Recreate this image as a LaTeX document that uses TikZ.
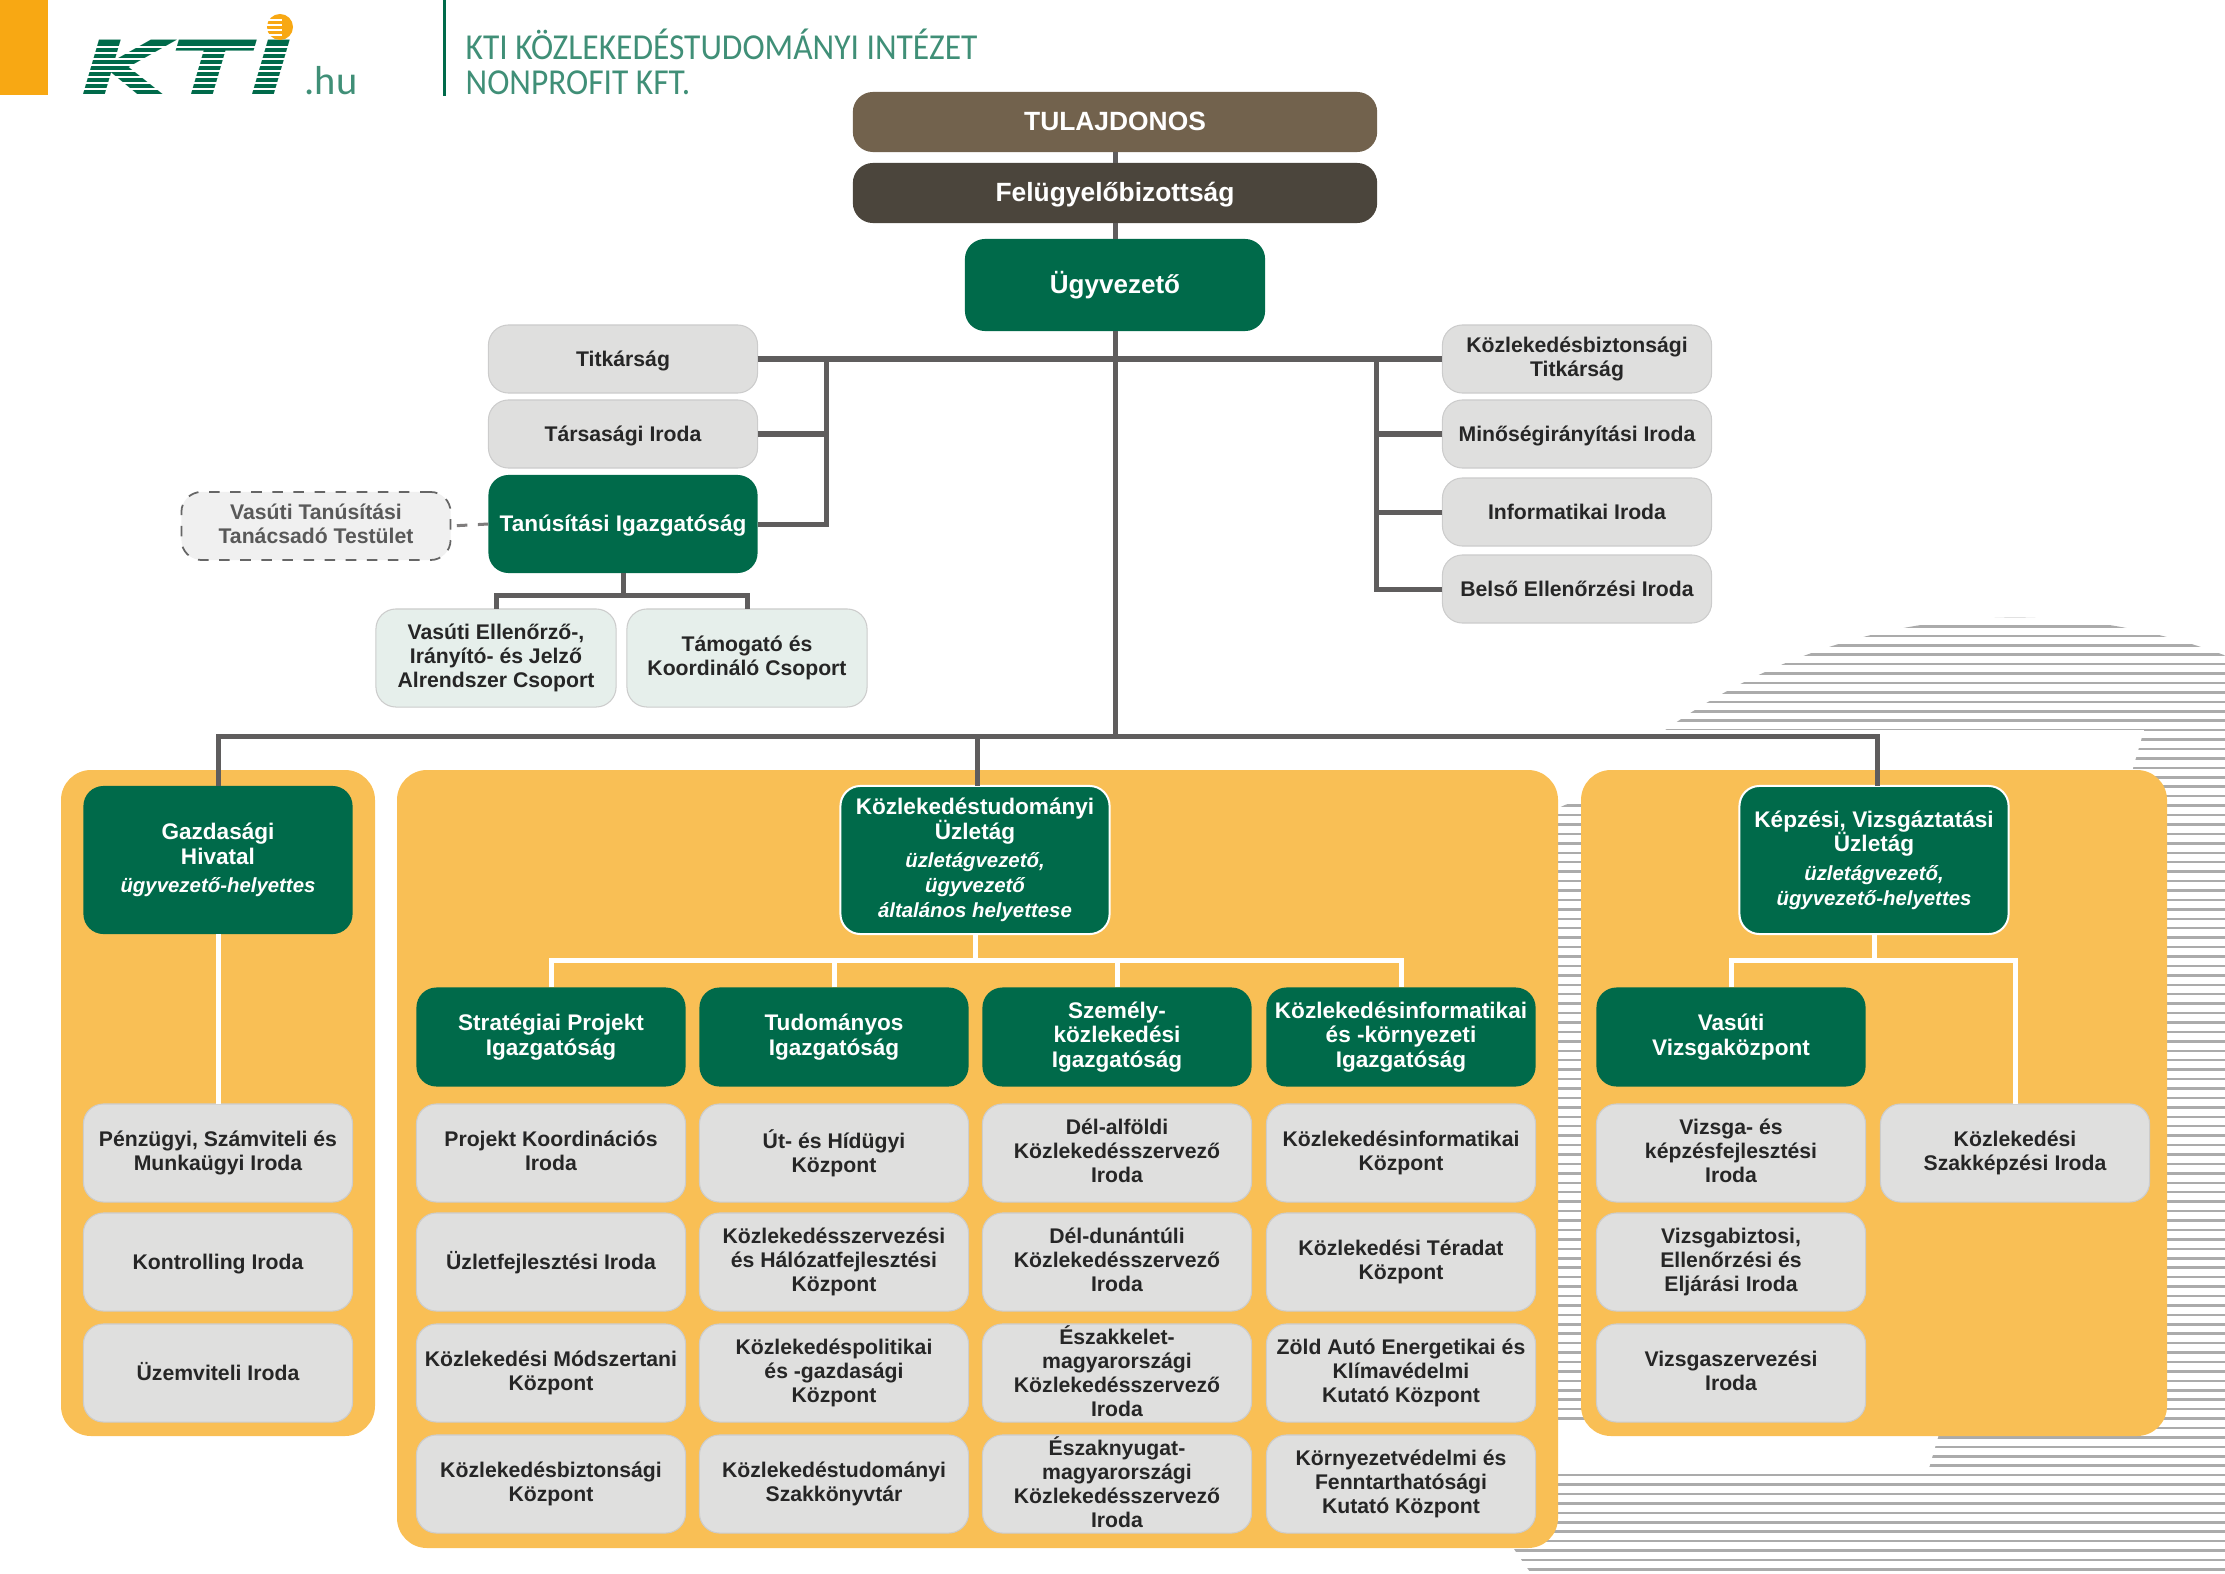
\documentclass[tikz,border=0pt]{standalone}
\usepackage{fontspec}
\setmainfont{Liberation Sans}
\newfontfamily\headfont{Carlito}
\newfontfamily\logofont{DejaVu Sans}
\definecolor{ktigreen}{HTML}{006A4A}
\definecolor{ktiorange}{HTML}{F8A813}
\definecolor{panelc}{HTML}{F9BF55}
\definecolor{boxgray}{HTML}{DFDFDE}
\definecolor{linec}{HTML}{5F5D5D}
\definecolor{stripec}{HTML}{ABABAB}
\definecolor{ownerc}{HTML}{72624D}
\definecolor{boardc}{HTML}{4B453C}
\definecolor{groupc}{HTML}{E6EFEB}
\newcommand{\ital}[1]{{\fontsize{5.8}{6.8}\selectfont\itshape #1}}
\newcommand{\topstrut}{\rule{0pt}{0.82\baselineskip}}
\newcommand{\botstrut}{\rule[-0.18\baselineskip]{0pt}{0.18\baselineskip}}
\begin{document}
\begin{tikzpicture}[x=0.01cm,y=-0.01cm,
    box/.style={rounded corners=0.2cm,inner sep=0pt,outer sep=0pt,align=center,font=\bfseries\fontsize{6.03}{6.85}\selectfont,
      execute at begin node=\topstrut,execute at end node=\botstrut},
    graybox/.style={box,fill=boxgray,draw=black!20,line width=0.3pt,text=black!85,minimum width=2.69cm,minimum height=0.98cm},
    thinbox/.style={graybox,minimum height=0.68cm},
    greenbox/.style={box,fill=ktigreen,text=white,minimum width=2.69cm,minimum height=0.99cm,font=\bfseries\fontsize{6.42}{7.05}\selectfont},
    headbox/.style={greenbox,minimum height=1.48cm},
    topbox/.style={box,text=white,minimum width=5.24cm,minimum height=0.6cm,font=\bfseries\fontsize{7.5}{8}\selectfont},
    subbox/.style={graybox,fill=groupc,minimum width=2.4cm},
    panel/.style={fill=panelc,rounded corners=0.3cm},
    conn/.style={draw=linec,line width=0.05cm},
    wconn/.style={draw=white,line width=0.05cm},
    headtext/.style={anchor=base west,inner sep=0pt,text=ktigreen!75,font=\headfont\fontsize{10.4}{12}\selectfont}]
  \useasboundingbox (0,0) rectangle (2225,1573);

  % striped disc with a white band across it
  \begin{scope}
    \clip (2015,1218) circle (6cm);
    \foreach \i in {0,...,101}
      \draw[stripec,line width=0.025cm] (1400,617+9.43*\i) -- (2225,617+9.43*\i);
  \end{scope}
  \fill[white] (1400,730) -- (2144,730) -- (1929,1468) -- (1400,1468) -- cycle;
  \begin{scope}
    \clip (1550,815) .. controls (1562,805) .. (1590,798) -- (1590,1422) -- (1550,1422) -- cycle;
    \foreach \i in {19,...,86}
      \draw[stripec,line width=0.025cm] (1550,617+9.43*\i) -- (1590,617+9.43*\i);
  \end{scope}

  % header
  \fill[ktiorange] (0,0) rectangle (48,95);
  \node[inner sep=0pt,text=ktigreen,font=\logofont\bfseries\itshape\fontsize{22}{22}\selectfont,xscale=1.5] (logo) at (187,68) {KTI};
  \fill[ktiorange] (280,27) circle (0.13cm);
  \foreach \i in {0,...,8}
    \draw[white,line width=0.014cm] (75,47+6*\i) -- (300,47+6*\i);
  \foreach \i in {0,...,3}
    \draw[white,line width=0.012cm] (264,20+5*\i) -- (282,20+5*\i);
  \node[anchor=base west,inner sep=0pt,text=ktigreen!75,font=\headfont\fontsize{11.5}{12}\selectfont] (hu) at (304,95) {.hu};
  \draw[ktigreen,line width=0.03cm] (444,0) -- (444,96);
  \node[headtext,xscale=0.915] (title1) at (465,60) {KTI KÖZLEKEDÉSTUDOMÁNYI INTÉZET};
  \node[headtext,xscale=0.915] (title2) at (465,95) {NONPROFIT KFT.};

  % panels
  \fill[panel] (61,770) rectangle (375,1436);
  \fill[panel] (397,770) rectangle (1558,1548);
  \fill[panel] (1581,770) rectangle (2167,1436);

  % top of the tree
  \node[topbox,fill=ownerc] (tulajdonos) at (1115,122) {TULAJDONOS};
  \node[topbox,fill=boardc] (felugyelo) at (1115,193) {Felügyelőbizottság};
  \node[greenbox,minimum width=3cm,minimum height=0.92cm,font=\bfseries\fontsize{7.4}{8}\selectfont] (ugyvezeto) at (1115,285) {Ügyvezető};

  \node[thinbox] (titkarsag) at (623,359) {Titkárság};
  \node[thinbox] (tarsasagi) at (623,434) {Társasági Iroda};
  \node[greenbox,minimum height=0.98cm] (tanusitasi) at (623,524) {Tanúsítási Igazgatóság};
  \node[thinbox,fill=black!6,draw=black!60,dashed,line width=0.5pt,text=black!65] (tanacsado) at (316,526) {Vasúti Tanúsítási\\Tanácsadó Testület};
  \node[subbox] (ellenorzo) at (496,658) {Vasúti Ellenőrző-,\\Irányító- és Jelző\\Alrendszer Csoport};
  \node[subbox] (tamogato) at (747,658) {Támogató és\\Koordináló Csoport};

  \node[thinbox] (kbtitkarsag) at (1577,359) {Közlekedésbiztonsági\\Titkárság};
  \node[thinbox] (minoseg) at (1577,434) {Minőségirányítási Iroda};
  \node[thinbox] (informatikai) at (1577,512) {Informatikai Iroda};
  \node[thinbox] (belso) at (1577,589) {Belső Ellenőrzési Iroda};

  % divisions
  \node[headbox] (gazdasagi) at (218,860) {Gazdasági\\Hivatal\\[1pt]\ital{ügyvezető-helyettes}};
  \node[headbox,draw=white,line width=0.02cm] (uzletag) at (975,860) {Közlekedéstudományi\\Üzletág\\[1pt]\ital{üzletágvezető,}\\\ital{ügyvezető}\\\ital{általános helyettese}};
  \node[headbox,draw=white,line width=0.02cm] (kepzesi) at (1874,860) {Képzési, Vizsgáztatási\\Üzletág\\[1pt]\ital{üzletágvezető,}\\\ital{ügyvezető-helyettes}};

  \node[greenbox] (strategiai) at (551,1037) {Stratégiai Projekt\\Igazgatóság};
  \node[greenbox] (tudomanyos) at (834,1037) {Tudományos\\Igazgatóság};
  \node[greenbox] (szemely) at (1117,1037) {Személy-\\közlekedési\\Igazgatóság};
  \node[greenbox] (kozinf) at (1401,1037) {Közlekedésinformatikai\\és -környezeti\\Igazgatóság};
  \node[greenbox] (vizsgakozpont) at (1731,1037) {Vasúti\\Vizsgaközpont};

  % offices under the divisions
  \foreach \name/\xx/\yy/\txt in {
      penzugyi/218/1153/{Pénzügyi, Számviteli és\\Munkaügyi Iroda},
      kontrolling/218/1262/{Kontrolling Iroda},
      uzemviteli/218/1373/{Üzemviteli Iroda},
      projekt/551/1153/{Projekt Koordinációs\\Iroda},
      uzletfejl/551/1262/{Üzletfejlesztési Iroda},
      modszertani/551/1373/{Közlekedési Módszertani\\Központ},
      kbkozpont/551/1484/{Közlekedésbiztonsági\\Központ},
      uthid/834/1153/{Út- és Hídügyi\\Központ},
      halozat/834/1262/{Közlekedésszervezési\\és Hálózatfejlesztési\\Központ},
      politikai/834/1373/{Közlekedéspolitikai\\és -gazdasági\\Központ},
      szakkonyvtar/834/1484/{Közlekedéstudományi\\Szakkönyvtár},
      delalfold/1117/1153/{Dél-alföldi\\Közlekedésszervező\\Iroda},
      deldunant/1117/1262/{Dél-dunántúli\\Közlekedésszervező\\Iroda},
      eszakkelet/1117/1373/{Északkelet-\\magyarországi\\Közlekedésszervező\\Iroda},
      eszaknyugat/1117/1484/{Északnyugat-\\magyarországi\\Közlekedésszervező\\Iroda},
      infkozpont/1401/1153/{Közlekedésinformatikai\\Központ},
      teradat/1401/1262/{Közlekedési Téradat\\Központ},
      zoldauto/1401/1373/{Zöld Autó Energetikai és\\Klímavédelmi\\Kutató Központ},
      kornyezet/1401/1484/{Környezetvédelmi és\\Fenntarthatósági\\Kutató Központ},
      fejlesztes/1731/1153/{Vizsga- és\\képzésfejlesztési\\Iroda},
      vizsgabizt/1731/1262/{Vizsgabiztosi,\\Ellenőrzési és\\Eljárási Iroda},
      szervezes/1731/1373/{Vizsgaszervezési\\Iroda},
      szakkepzes/2015/1153/{Közlekedési\\Szakképzési Iroda}}
    \node[graybox] (\name) at (\xx,\yy) {\txt};

  % dark connectors
  \coordinate (busbottom) at (1115,736);
  \coordinate (leftbus) at (826,359);
  \coordinate (rightbus) at (1376,359);
  \coordinate (tansplit) at (623,595);
  \draw[conn] (tulajdonos.south) -- (felugyelo.north);
  \draw[conn] (felugyelo.south) -- (ugyvezeto.north);
  \draw[conn] (ugyvezeto.south) -- (busbottom);
  \draw[conn] (gazdasagi.north) |- (busbottom) -| ([xshift=0.03cm]kepzesi.north);
  \draw[conn] ([xshift=0.02cm]uzletag.north) -- ([xshift=0.02cm]uzletag.north |- busbottom);
  \draw[conn] (titkarsag.east) -- (kbtitkarsag.west);
  \draw[conn] (tarsasagi.east) -- (tarsasagi.east -| leftbus);
  \draw[conn] (tanusitasi.east) -| (leftbus);
  \draw[conn] (minoseg.west) -- (minoseg.west -| rightbus);
  \draw[conn] (informatikai.west) -- (informatikai.west -| rightbus);
  \draw[conn] (belso.west) -| (rightbus);
  \draw[conn] (tanusitasi.south) -- (tansplit);
  \draw[conn] (ellenorzo.north) |- (tansplit) -| (tamogato.north);
  \draw[linec!80,line width=0.03cm,dashed] (tanusitasi.west) -- (tanacsado.east);

  % white connectors on the panels
  \coordinate (uzlsplit) at (975,960);
  \coordinate (kepsplit) at (1874,960);
  \draw[wconn] (gazdasagi.south) -- (penzugyi.north);
  \draw[wconn] (uzletag.south) -- (uzlsplit);
  \draw[wconn] (strategiai.north) |- (uzlsplit) -| (kozinf.north);
  \draw[wconn] (tudomanyos.north) -- (tudomanyos.north |- uzlsplit);
  \draw[wconn] (szemely.north) -- (szemely.north |- uzlsplit);
  \draw[wconn] (kepzesi.south) -- (kepsplit);
  \draw[wconn] (vizsgakozpont.north) |- (kepsplit) -| (szakkepzes.north);
\end{tikzpicture}
\end{document}
